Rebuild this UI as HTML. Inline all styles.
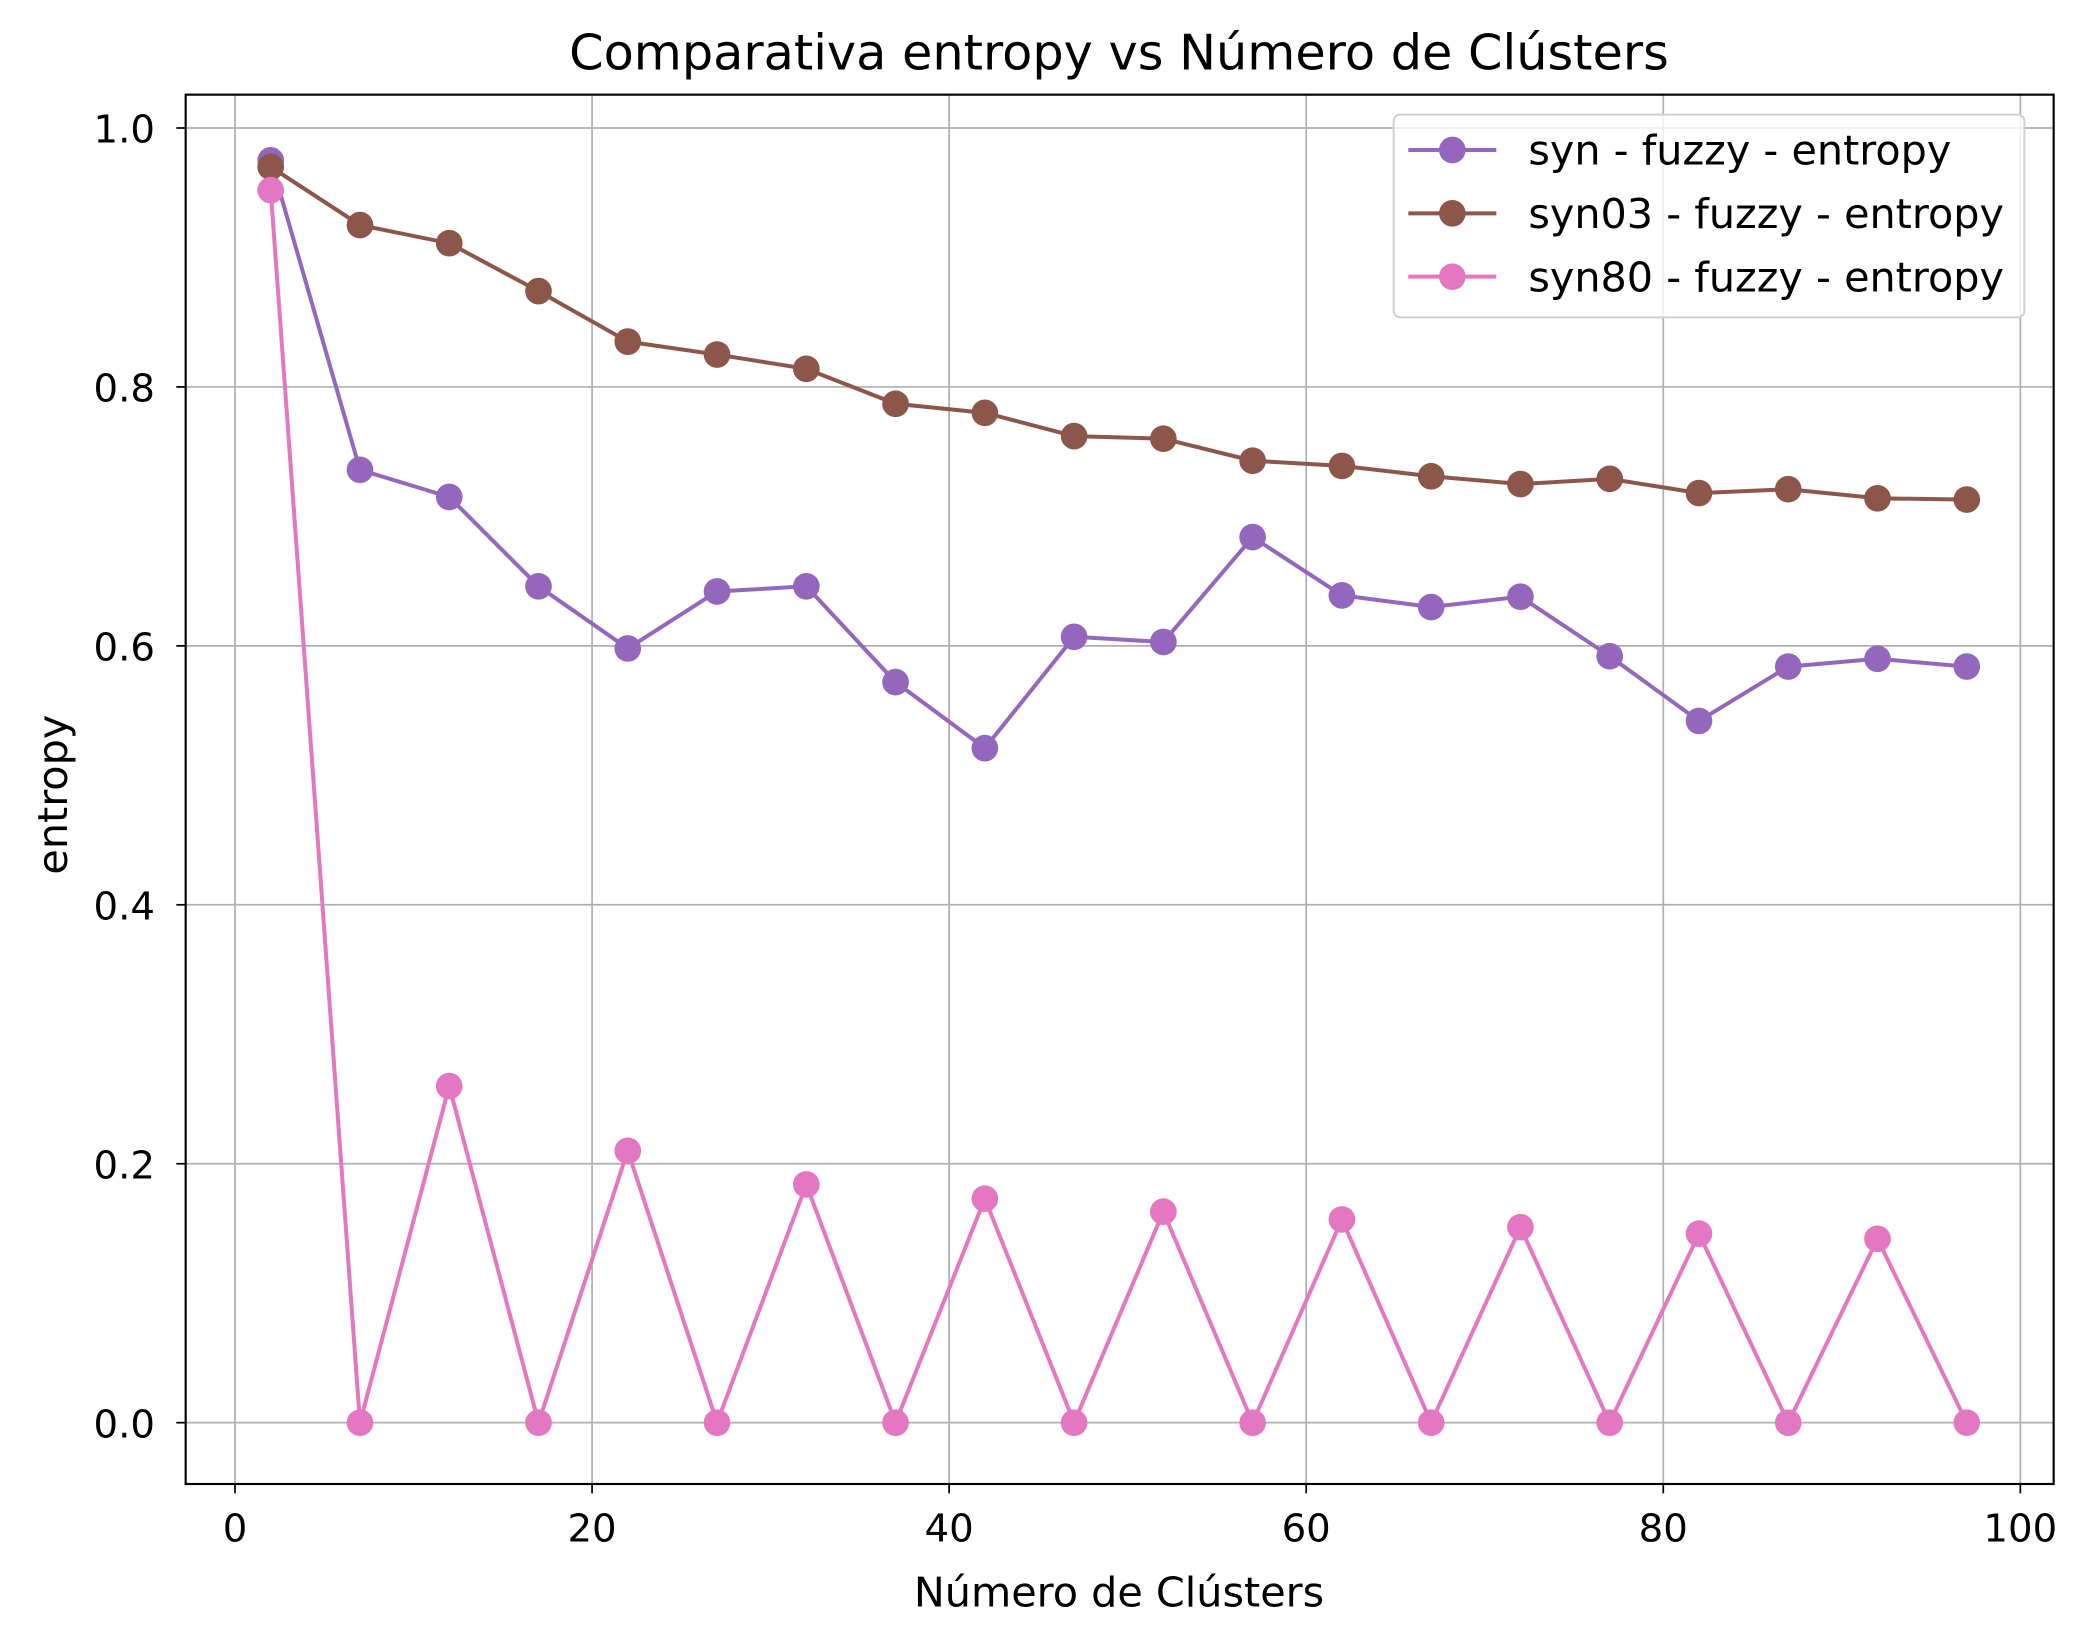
<!DOCTYPE html>
<html><head><meta charset="utf-8"><style>body{margin:0;background:#fff}svg{display:block}text{font-family:"DejaVu Sans","Liberation Sans",sans-serif;fill:#000}</style></head>
<body>
<svg width="2082" height="1640" viewBox="0 0 1561 1230">
<g id="grid"></g>
<g id="series"></g>
<rect x="139" y="71" width="1401" height="1042" fill="none" stroke="#000" stroke-width="1.6"/>
<g id="ticks"></g>
<text x="839" y="52" font-size="37" text-anchor="middle">Comparativa entropy vs Número de Clústers</text>
<text x="839" y="1205" font-size="31" text-anchor="middle">Número de Clústers</text>
<text x="0" y="0" font-size="31" text-anchor="middle" transform="translate(50,596) rotate(-90)">entropy</text>
<g>
<rect x="1045" y="86" width="473" height="152" rx="5" fill="#fff" fill-opacity="0.8" stroke="#d0d0d0" stroke-width="1.5"/>
<g id="legend"></g>
</g>
</svg>
<script>
const xs=[2,7,12,17,22,27,32,37,42,47,52,57,62,67,72,77,82,87,92,97];
const synVals=[0.975,0.736,0.715,0.646,0.598,0.642,0.646,0.572,0.521,0.607,0.603,0.684,0.639,0.630,0.638,0.592,0.542,0.584,0.590,0.584];
const syn03Vals=[0.970,0.925,0.911,0.874,0.835,0.825,0.814,0.787,0.780,0.762,0.760,0.743,0.739,0.731,0.725,0.729,0.718,0.721,0.714,0.713];
const syn80Vals=[0.952,0,0.260,0,0.210,0,0.184,0,0.173,0,0.163,0,0.157,0,0.151,0,0.146,0,0.142,0];
const seriesNames=["syn - fuzzy - entropy","syn03 - fuzzy - entropy","syn80 - fuzzy - entropy"];
const xTicks=[0,20,40,60,80,100];
const yTicks=[0.0,0.2,0.4,0.6,0.8,1.0];
const NS="http://www.w3.org/2000/svg";
const X=v=>176+(1515-176)*v/100;
const Y=v=>1067-971*v;
function mk(t,a,p){const e=document.createElementNS(NS,t);for(const k in a)e.setAttribute(k,a[k]);p.appendChild(e);return e;}
const grid=document.getElementById('grid'),ticks=document.getElementById('ticks');
xTicks.forEach(t=>{
 const g=mk('line',{x1:X(t),x2:X(t),y1:71,y2:1113,stroke:'#b0b0b0','stroke-width':1.3},grid);
 
 
 const k=mk('line',{x1:X(t),x2:X(t),y1:1113,y2:1120,stroke:'#000','stroke-width':1.3},ticks);
 
 
 const l=mk('text',{x:X(t),y:1156,'font-size':29,'text-anchor':'middle'},ticks);l.textContent=t;
 
 
});
yTicks.forEach(t=>{
 const g=mk('line',{x1:139,x2:1540,y1:Y(t),y2:Y(t),stroke:'#b0b0b0','stroke-width':1.3},grid);
 
 
 const k=mk('line',{x1:132,x2:139,y1:Y(t),y2:Y(t),stroke:'#000','stroke-width':1.3},ticks);
 
 
 const l=mk('text',{x:116,y:Y(t)+11,'font-size':29,'text-anchor':'end'},ticks);l.textContent=t.toFixed(1);
 
 
});
const colors=['#9467bd','#8c564b','#e377c2'];
const all=[synVals,syn03Vals,syn80Vals];
const sg=document.getElementById('series'),lg=document.getElementById('legend');
all.forEach((vals,i)=>{
 const g=mk('g',{},sg);
 
 
 const pl=mk('polyline',{points:xs.map((x,j)=>X(x)+','+Y(vals[j])).join(' '),fill:'none',stroke:colors[i],'stroke-width':3},g);
 
 
 xs.forEach((x,j)=>{
  const c=mk('circle',{cx:X(x),cy:Y(vals[j]),r:10,fill:colors[i]},g);
  
  
 });
 const y=112.5+47.5*i;
 const e=mk('g',{},lg);
 
 
 mk('line',{x1:1056,x2:1122,y1:y,y2:y,stroke:colors[i],'stroke-width':3},e);
 mk('circle',{cx:1089,cy:y,r:10,fill:colors[i]},e);
 const t=mk('text',{x:1146,y:y+11,'font-size':31},e);t.textContent=seriesNames[i];
});
</script>
</body></html>
